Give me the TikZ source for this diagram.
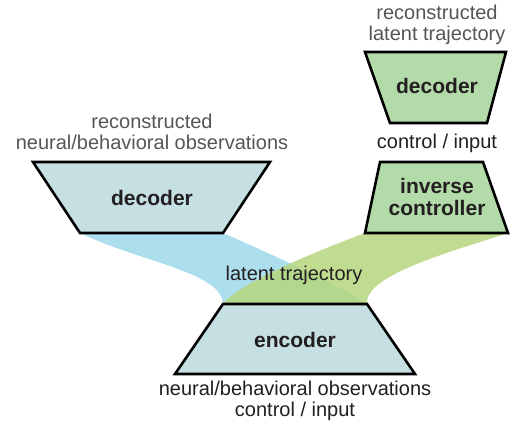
\documentclass[tikz,border=0pt]{standalone}
\usepackage{fontspec}
\setmainfont{Liberation Sans}
\usetikzlibrary{positioning,calc}

\definecolor{boxblue}{HTML}{C5DFE3}
\definecolor{boxgreen}{HTML}{B3DBAA}
\definecolor{flowblue}{HTML}{ACDEEE}
\definecolor{flowgreen}{HTML}{B5D67C}
\definecolor{labelgray}{HTML}{555555}
\definecolor{labeldark}{HTML}{231F20}

\begin{document}
\begin{tikzpicture}[x=1pt,y=-1pt,
  block/.style={draw=black, line width=2.6pt, line join=miter},
  blocklabel/.style={font=\fontsize{21}{22}\selectfont\bfseries, text=labeldark, align=center, inner sep=0pt},
  iolabel/.style={font=\fontsize{20}{21}\selectfont, text=labeldark, align=center, inner sep=0pt},
  recolabel/.style={iolabel, text=labelgray}]

\useasboundingbox (0,0) rectangle (514,432);

% Corners of the four blocks
\coordinate (dec-tl) at (33,162);
\coordinate (dec-tr) at (270,162);
\coordinate (dec-br) at (223,233);
\coordinate (dec-bl) at (80,233);

\coordinate (inv-tl) at (380,162);
\coordinate (inv-tr) at (483,162);
\coordinate (inv-br) at (508,233);
\coordinate (inv-bl) at (365,233);

\coordinate (rdec-tl) at (365,52);
\coordinate (rdec-tr) at (506,52);
\coordinate (rdec-br) at (487,123);
\coordinate (rdec-bl) at (390,123);

\coordinate (enc-tl) at (223,304);
\coordinate (enc-tr) at (367,304);
\coordinate (enc-br) at (415,374);
\coordinate (enc-bl) at (175,374);

% Latent flows (drawn first, blocks cover the ends)
\fill[flowblue] (dec-bl) .. controls (140,262) and (222,272) .. (enc-tl)
  -- (enc-tr) .. controls (340,286) and (280,258) .. (dec-br) -- cycle;
\fill[flowgreen, fill opacity=0.85] (inv-bl) .. controls (320,250) and (240,282) .. (enc-tl)
  -- (enc-tr) .. controls (365,276) and (440,255) .. (inv-br) -- cycle;

% Blocks
\draw[block, fill=boxblue] (dec-tl) -- (dec-tr) -- (dec-br) -- (dec-bl) -- cycle;
\draw[block, fill=boxgreen] (inv-tl) -- (inv-tr) -- (inv-br) -- (inv-bl) -- cycle;
\draw[block, fill=boxgreen] (rdec-tl) -- (rdec-tr) -- (rdec-br) -- (rdec-bl) -- cycle;
\draw[block, fill=boxblue] (enc-tl) -- (enc-tr) -- (enc-br) -- (enc-bl) -- cycle;

% Block labels
\node[blocklabel] (dec) at (152,198) {decoder};
\node[blocklabel] (inv) at (437,197) {inverse\\controller};
\node[blocklabel] (rdec) at (437,86) {decoder};
\node[blocklabel] (enc) at (295,340) {encoder};

% Inputs and outputs
\node[recolabel] (recobs) at (152,132) {reconstructed\\neural/behavioral observations};
\node[recolabel] (reclat) at (437,25) {reconstructed\\latent trajectory};
\node[iolabel] (ctrl) at (437,143) {control / input};
\node[iolabel] (latent) at (294,275) {latent trajectory};
\node[iolabel] (obs) at (295,401) {neural/behavioral observations\\control / input};

\end{tikzpicture}
\end{document}
